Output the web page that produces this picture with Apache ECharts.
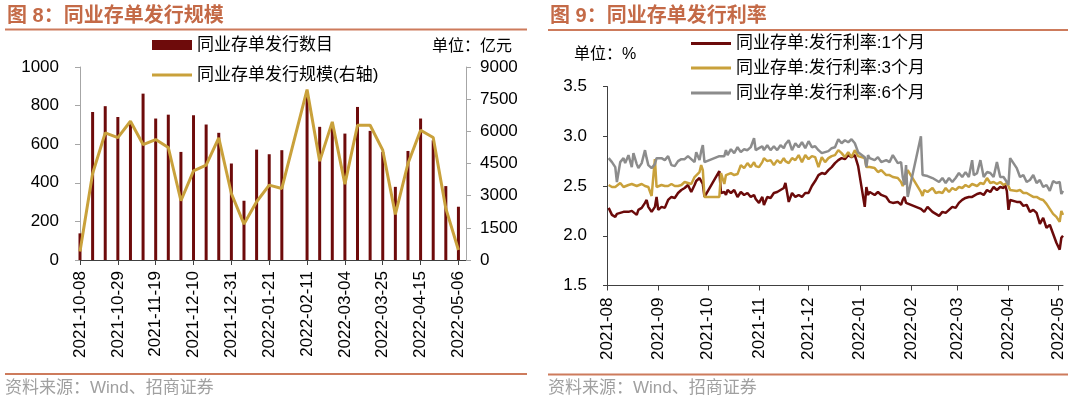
<!DOCTYPE html>
<html>
<head>
<meta charset="utf-8">
<script src="https://cdn.jsdelivr.net/npm/echarts@6/dist/echarts.min.js"></script>
<style>
html, body { margin: 0; padding: 0; background: #fff; }
#main { width: 1080px; height: 399px; }
</style>
</head>
<body>
<div id="main"></div>
<script>
// ---- left chart: weekly NCD issuance ----
var weeks = ['2021-10-08','2021-10-15','2021-10-22','2021-10-29','2021-11-05','2021-11-12','2021-11-19','2021-11-26',
    '2021-12-03','2021-12-10','2021-12-17','2021-12-24','2021-12-31','2022-01-07','2022-01-14','2022-01-21',
    '2022-01-28','2022-02-04','2022-02-11','2022-02-18','2022-02-25','2022-03-04','2022-03-11','2022-03-18',
    '2022-03-25','2022-04-01','2022-04-08','2022-04-15','2022-04-22','2022-04-29','2022-05-06'];
var issueCount = [138, 767, 797, 741, 720, 862, 733, 753, 560, 750, 702, 659, 500, 307, 572, 548,
    569, null, 850, 690, 700, 655, 793, 669, 560, 379, 565, 733, 620, 383, 276];
var issueScale = [400, 4034, 5928, 5710, 6471, 5384, 5617, 5245, 2762, 4159, 4422, 5695, 3103, 1676, 2716, 3491,
    3336, null, 7945, 4609, 6440, 3538, 6284, 6284, 5121, 2126, 4500, 6052, 5710, 2405, 466];

// ---- right chart: daily NCD issuing rates ----
var rateDates = [
    '2021-08-02','2021-08-04','2021-08-06','2021-08-07','2021-08-09','2021-08-11','2021-08-12','2021-08-14','2021-08-16','2021-08-17',
    '2021-08-19','2021-08-20','2021-08-22','2021-08-24','2021-08-25','2021-08-26','2021-08-28','2021-08-30','2021-08-31',
    '2021-09-01','2021-09-03','2021-09-05','2021-09-07','2021-09-09','2021-09-11','2021-09-13','2021-09-15','2021-09-17','2021-09-19',
    '2021-09-21','2021-09-23','2021-09-24','2021-09-26','2021-09-27','2021-09-28','2021-09-29','2021-09-30',
    '2021-10-08','2021-10-09','2021-10-11','2021-10-12','2021-10-13','2021-10-15','2021-10-17','2021-10-19','2021-10-21','2021-10-23',
    '2021-10-25','2021-10-27','2021-10-29','2021-10-30',
    '2021-11-01','2021-11-03','2021-11-04','2021-11-06','2021-11-08','2021-11-10','2021-11-12','2021-11-14','2021-11-16','2021-11-17',
    '2021-11-19','2021-11-21','2021-11-23','2021-11-25','2021-11-27','2021-11-29',
    '2021-12-01','2021-12-03','2021-12-05','2021-12-07','2021-12-09','2021-12-11','2021-12-13','2021-12-15','2021-12-17','2021-12-19',
    '2021-12-21','2021-12-23','2021-12-25','2021-12-27','2021-12-29','2021-12-31',
    '2022-01-04','2022-01-05','2022-01-06','2022-01-07','2022-01-10','2022-01-12','2022-01-14','2022-01-17','2022-01-19','2022-01-21',
    '2022-01-24','2022-01-26','2022-01-27','2022-01-28','2022-01-29','2022-01-30',
    '2022-02-07','2022-02-08','2022-02-09','2022-02-11','2022-02-14','2022-02-16','2022-02-18','2022-02-20','2022-02-22','2022-02-24',
    '2022-02-26','2022-02-28',
    '2022-03-02','2022-03-04','2022-03-06','2022-03-08','2022-03-10','2022-03-11','2022-03-13','2022-03-15','2022-03-17','2022-03-19',
    '2022-03-21','2022-03-23','2022-03-25','2022-03-27','2022-03-29','2022-03-30','2022-03-31',
    '2022-04-01','2022-04-02','2022-04-06','2022-04-08','2022-04-10','2022-04-12','2022-04-14','2022-04-16','2022-04-18','2022-04-20',
    '2022-04-22','2022-04-24','2022-04-26','2022-04-28','2022-04-30',
    '2022-05-02','2022-05-03','2022-05-04'
];
var rate1m = [
    2.28,2.21,2.19,2.22,2.23,2.24,2.24,2.24,2.25,2.26,2.21,2.26,2.28,2.33,2.36,2.29,2.24,2.29,2.39,
    2.26,2.29,2.28,2.36,2.39,2.38,2.43,2.46,2.48,2.51,2.44,2.51,2.55,2.58,2.60,2.52,2.39,2.40,
    2.65,2.43,2.44,2.41,2.46,2.43,2.46,2.39,2.44,2.41,2.43,2.39,2.41,2.37,
    2.33,2.39,2.31,2.39,2.38,2.43,2.44,2.46,2.48,2.53,2.34,2.43,2.39,2.41,2.39,2.43,
    2.43,2.50,2.55,2.61,2.63,2.62,2.66,2.69,2.73,2.76,2.78,2.77,2.81,2.79,2.81,2.70,
    2.29,2.49,2.41,2.44,2.41,2.44,2.41,2.39,2.34,2.33,2.34,2.31,2.36,2.39,2.33,2.31,
    2.27,2.25,2.24,2.29,2.24,2.22,2.20,2.24,2.23,2.26,2.29,2.28,
    2.33,2.36,2.38,2.39,2.39,2.40,2.42,2.43,2.41,2.46,2.44,2.49,2.46,2.49,2.48,2.51,2.45,
    2.26,2.36,2.34,2.34,2.30,2.31,2.24,2.26,2.23,2.12,2.18,2.08,2.11,2.02,1.93,
    1.86,1.98,2.00
];
var rate3m = [
    2.51,2.49,2.49,2.48,2.53,2.49,2.50,2.51,2.52,2.52,2.50,2.49,2.52,2.50,2.50,2.49,2.40,2.77,2.49,
    2.50,2.51,2.50,2.50,2.52,2.50,2.50,2.51,2.54,2.53,2.52,2.59,2.61,2.64,2.71,2.66,2.39,2.39,
    2.39,2.63,2.52,2.61,2.60,2.63,2.61,2.62,2.71,2.68,2.73,2.69,2.74,2.70,
    2.69,2.74,2.78,2.75,2.76,2.71,2.76,2.73,2.78,2.75,2.73,2.78,2.76,2.81,2.74,2.81,
    2.77,2.80,2.79,2.69,2.79,2.74,2.78,2.80,2.81,2.86,2.83,2.79,2.84,2.79,2.86,2.80,
    2.78,2.69,2.68,2.69,2.68,2.64,2.66,2.61,2.61,2.59,2.58,2.54,2.50,2.55,2.60,2.66,
    2.44,2.40,2.46,2.44,2.48,2.43,2.44,2.43,2.48,2.44,2.48,2.46,
    2.49,2.48,2.51,2.49,2.52,2.51,2.50,2.53,2.52,2.58,2.53,2.54,2.52,2.54,2.51,2.52,2.53,
    2.50,2.46,2.45,2.46,2.43,2.43,2.41,2.39,2.39,2.37,2.36,2.32,2.27,2.22,2.19,
    2.14,2.25,2.21
];
var rate6m = [
    2.78,2.74,2.69,2.54,2.74,2.78,2.73,2.81,2.69,2.83,2.72,2.68,2.73,2.86,2.78,2.71,2.68,2.72,2.78,
    2.78,2.78,2.76,2.80,2.71,2.70,2.75,2.77,2.77,2.80,2.77,2.74,2.84,2.76,2.85,2.91,2.74,2.75,
    2.80,2.78,2.80,2.86,2.81,2.87,2.83,2.89,2.84,2.87,2.86,2.89,2.98,2.86,
    2.88,2.90,2.86,2.91,2.86,2.90,2.86,2.91,2.88,2.92,2.96,2.86,2.93,2.89,2.94,2.88,
    2.95,2.89,2.90,2.86,2.83,2.84,2.85,2.88,2.89,2.97,2.93,2.96,2.94,2.97,2.93,2.84,
    2.79,2.69,2.81,2.78,2.76,2.79,2.74,2.76,2.74,2.81,2.73,2.74,2.59,2.51,2.71,2.39,
    3.00,2.61,2.59,2.60,2.58,2.56,2.54,2.58,2.53,2.58,2.54,2.58,
    2.63,2.59,2.64,2.59,2.76,2.61,2.63,2.76,2.59,2.64,2.63,2.59,2.74,2.59,2.59,2.58,2.54,
    2.51,2.78,2.68,2.59,2.61,2.54,2.56,2.61,2.53,2.56,2.49,2.51,2.45,2.55,2.53,
    2.54,2.42,2.45
];
var monthTicks = ['2021-08','2021-09','2021-10','2021-11','2021-12','2022-01','2022-02','2022-03','2022-04','2022-05'];

var FONT = '"Liberation Sans", Arial, "Noto Sans CJK SC", sans-serif';
var TITLE_C = '#c46a47';
var RULE_C = '#cd7b5c';
var BAR_C = '#6e0b0b';
var GOLD = '#c9a13b';
var RED = '#6b0a0a';
var GRAY = '#8c8c8c';
var LINE_ICON = 'path://M0,0H40V3H0Z';

function ts(s) {
    var p = s.split('-');
    return new Date(+p[0], +p[1] - 1, p[2] ? +p[2] : 1).getTime();
}
function pad(n) { return n < 10 ? '0' + n : '' + n; }

var weekTicks = [];
for (var i = 0; i < weeks.length; i += 3) weekTicks.push(i);
var monthStamps = monthTicks.map(ts);

var labelStyle = { color: '#000', fontSize: 17, fontFamily: FONT };
var legendText = { color: '#000', fontSize: 17, fontFamily: FONT };

function oneLegend(name, left, top, icon) {
    return {
        data: [{ name: name, icon: icon }], left: left, top: top, padding: 0,
        itemWidth: 40, itemHeight: 10, selectedMode: false,
        textStyle: legendText
    };
}

var chart = echarts.init(document.getElementById('main'));

var option = {
    backgroundColor: '#fff',
    animation: false,
    grid: [
        { left: 80, top: 67, width: 386, height: 193 },
        { left: 607, top: 86.5, width: 456, height: 199 }
    ],
    legend: [
        oneLegend('同业存单发行数目', 152, 36.5, 'rect'),
        oneLegend('同业存单发行规模(右轴)', 152, 66.5, LINE_ICON),
        oneLegend('同业存单:发行利率:1个月', 691, 35, LINE_ICON),
        oneLegend('同业存单:发行利率:3个月', 691, 59.5, LINE_ICON),
        oneLegend('同业存单:发行利率:6个月', 691, 84.5, LINE_ICON)
    ],
    xAxis: [
        {
            type: 'value', gridIndex: 0, min: 0, max: 30.6,
            axisLine: { show: true, onZero: false, lineStyle: { color: '#404040' } },
            axisTick: { show: true, length: 5, customValues: weekTicks, lineStyle: { color: '#404040' } },
            axisLabel: Object.assign({
                rotate: 90, margin: 11, customValues: weekTicks,
                formatter: function (v) { return weeks[v] || ''; }
            }, labelStyle),
            splitLine: { show: false }
        },
        {
            // day timestamps on a plain value axis, ticks at each month start
            type: 'value', gridIndex: 1, min: ts('2021-08-01'), max: ts('2022-05-04'),
            axisLine: { show: true, onZero: false, lineStyle: { color: '#404040' } },
            axisTick: { show: true, length: 5, customValues: monthStamps, lineStyle: { color: '#404040' } },
            axisLabel: Object.assign({
                rotate: 90, margin: 12, customValues: monthStamps,
                formatter: function (v) { var d = new Date(v); return d.getFullYear() + '-' + pad(d.getMonth() + 1); }
            }, labelStyle),
            splitLine: { show: false }
        }
    ],
    yAxis: [
        {
            type: 'value', gridIndex: 0, min: 0, max: 1000, interval: 200,
            axisLine: { show: true, lineStyle: { color: '#a6a6a6' } },
            axisTick: { show: true, length: 5, lineStyle: { color: '#a6a6a6' } },
            axisLabel: Object.assign({ margin: 21, formatter: function (v) { return String(v); } }, labelStyle),
            splitLine: { show: false }
        },
        {
            type: 'value', gridIndex: 0, position: 'right', min: 0, max: 9000, interval: 1500,
            axisLine: { show: true, lineStyle: { color: '#a6a6a6' } },
            axisTick: { show: true, length: 5, lineStyle: { color: '#a6a6a6' } },
            axisLabel: Object.assign({ margin: 14, formatter: function (v) { return String(v); } }, labelStyle),
            splitLine: { show: false }
        },
        {
            type: 'value', gridIndex: 1, min: 1.5, max: 3.5, interval: 0.5,
            axisLine: { show: true, lineStyle: { color: '#404040' } },
            axisTick: { show: true, length: 4, lineStyle: { color: '#404040' } },
            axisLabel: Object.assign({ margin: 20, formatter: function (v) { return v.toFixed(1); } }, labelStyle),
            splitLine: { show: false }
        }
    ],
    series: [
        {
            name: '同业存单发行数目', type: 'bar', xAxisIndex: 0, yAxisIndex: 0, barWidth: 3,
            itemStyle: { color: BAR_C },
            data: weeks.map(function (w, i) { return [i, issueCount[i]]; })
        },
        {
            name: '同业存单发行规模(右轴)', type: 'line', xAxisIndex: 0, yAxisIndex: 1,
            symbol: 'none', connectNulls: true,
            itemStyle: { color: GOLD }, lineStyle: { color: GOLD, width: 3 },
            data: weeks.map(function (w, i) { return [i, issueScale[i]]; })
        },
        {
            name: '同业存单:发行利率:1个月', type: 'line', xAxisIndex: 1, yAxisIndex: 2, symbol: 'none',
            itemStyle: { color: RED }, lineStyle: { color: RED, width: 2.5 },
            data: rateDates.map(function (d, i) { return [ts(d), rate1m[i]]; })
        },
        {
            name: '同业存单:发行利率:3个月', type: 'line', xAxisIndex: 1, yAxisIndex: 2, symbol: 'none',
            itemStyle: { color: GOLD }, lineStyle: { color: GOLD, width: 2.5 },
            data: rateDates.map(function (d, i) { return [ts(d), rate3m[i]]; })
        },
        {
            name: '同业存单:发行利率:6个月', type: 'line', xAxisIndex: 1, yAxisIndex: 2, symbol: 'none',
            itemStyle: { color: GRAY }, lineStyle: { color: GRAY, width: 2.5 },
            data: rateDates.map(function (d, i) { return [ts(d), rate6m[i]]; })
        }
    ],
    graphic: [
        { type: 'text', x: 7, y: 16, style: { text: '图 8：同业存单发行规模', font: 'bold 20px ' + FONT, fill: TITLE_C, verticalAlign: 'middle' } },
        { type: 'line', shape: { x1: 5, y1: 29.5, x2: 527, y2: 29.5 }, style: { stroke: RULE_C, lineWidth: 2 } },
        { type: 'text', x: 550, y: 16, style: { text: '图 9：同业存单发行利率', font: 'bold 20px ' + FONT, fill: TITLE_C, verticalAlign: 'middle' } },
        { type: 'line', shape: { x1: 548, y1: 30, x2: 1068, y2: 30 }, style: { stroke: RULE_C, lineWidth: 2 } },
        { type: 'text', x: 432, y: 47, style: { text: '单位：亿元', font: '16px ' + FONT, fill: '#000', verticalAlign: 'middle' } },
        { type: 'text', x: 574, y: 55, style: { text: '单位：%', font: '16px ' + FONT, fill: '#000', verticalAlign: 'middle' } },
        { type: 'line', shape: { x1: 5, y1: 374, x2: 527, y2: 374 }, style: { stroke: RULE_C, lineWidth: 2 } },
        { type: 'text', x: 5, y: 388, style: { text: '资料来源：Wind、招商证券', font: '17px ' + FONT, fill: '#a0a0a0', verticalAlign: 'middle' } },
        { type: 'line', shape: { x1: 548, y1: 374.5, x2: 1068, y2: 374.5 }, style: { stroke: RULE_C, lineWidth: 2 } },
        { type: 'text', x: 548, y: 388, style: { text: '资料来源：Wind、招商证券', font: '17px ' + FONT, fill: '#a0a0a0', verticalAlign: 'middle' } }
    ]
};

chart.setOption(option);
</script>
</body>
</html>
